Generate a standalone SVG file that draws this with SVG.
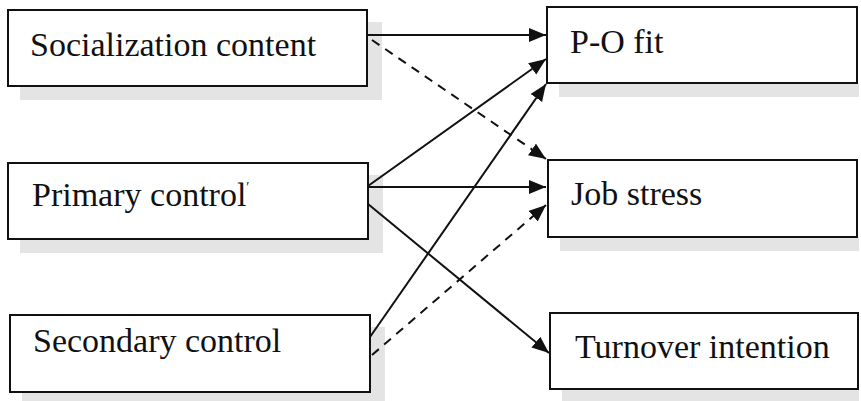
<svg xmlns="http://www.w3.org/2000/svg" width="861" height="401" viewBox="0 0 861 401">
<style>
.box{fill:#fff;stroke:#111;stroke-width:2}
.shadow{fill:#e4e4e4}
.label{font-family:"Liberation Serif","Times New Roman",serif;font-size:34px;fill:#111}
.conn{stroke:#111;stroke-width:2;fill:none;marker-end:url(#arrow)}
.dash{stroke-dasharray:9 7}
</style>
<defs>
<marker id="arrow" markerUnits="userSpaceOnUse" markerWidth="18" markerHeight="16" refX="17" refY="7" orient="auto">
<path d="M0,0 L17,7 L0,14 Z" fill="#111"/>
</marker>
</defs>
<rect width="861" height="401" fill="#fff"/>
<g id="node-socialization">
<rect class="shadow" x="20" y="86" width="362" height="14"/>
<rect class="shadow" x="367" y="22" width="15" height="78"/>
<rect class="box" x="8" y="10" width="359" height="76"/>
<text class="label" x="30" y="56">Socialization content</text>
</g>
<g id="node-primary">
<rect class="shadow" x="20" y="239" width="362" height="14"/>
<rect class="shadow" x="368" y="175" width="15" height="78"/>
<rect class="box" x="8" y="163" width="360" height="76"/>
<text class="label" x="32" y="206">Primary control<tspan font-size="14" dy="-14">′</tspan></text>
</g>
<g id="node-secondary">
<rect class="shadow" x="22" y="392" width="362" height="9"/>
<rect class="shadow" x="370" y="327" width="15" height="74"/>
<rect class="box" x="10" y="315" width="360" height="77"/>
<text class="label" x="33" y="352">Secondary control</text>
</g>
<g id="node-pofit">
<rect class="shadow" x="559" y="83" width="300" height="14"/>
<rect class="box" x="547" y="7" width="310" height="76"/>
<text class="label" x="570" y="53">P-O fit</text>
</g>
<g id="node-jobstress">
<rect class="shadow" x="560" y="237" width="299" height="14"/>
<rect class="box" x="548" y="160" width="309" height="77"/>
<text class="label" x="571" y="205">Job stress</text>
</g>
<g id="node-turnover">
<rect class="shadow" x="562" y="389" width="297" height="12"/>
<rect class="box" x="550" y="313" width="308" height="76"/>
<text class="label" x="575" y="358">Turnover intention</text>
</g>
<g id="connectors">
<line class="conn" x1="367" y1="35" x2="546" y2="35"/>
<line class="conn dash" x1="372" y1="40" x2="546" y2="159"/>
<line class="conn" x1="368" y1="186" x2="546" y2="59"/>
<line class="conn" x1="368" y1="187" x2="546" y2="187"/>
<line class="conn" x1="368" y1="204" x2="549" y2="353"/>
<line class="conn" x1="370" y1="337" x2="546" y2="84"/>
<line class="conn dash" x1="372" y1="355" x2="546" y2="205"/>
</g>
</svg>
